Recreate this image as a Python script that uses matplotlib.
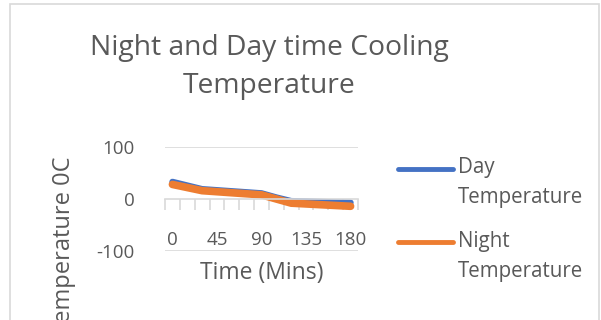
import matplotlib.pyplot as plt
from matplotlib.lines import Line2D
from matplotlib.patches import Rectangle
import numpy as np

plt.rcParams['font.family'] = ['Open Sans', 'DejaVu Sans']

# time categories, 15 min apart
times = [0, 15, 30, 45, 60, 75, 90, 105, 120, 135, 150, 165, 180]
day_temp = [33, 26, 19, 17, 15, 13, 11, 3, -4, -4.5, -5.5, -6.5, -7]
night_temp = [28, 22, 16, 14, 12, 10, 8, 0, -8, -9.5, -11, -12.5, -14]
y_ticks = [-100, 0, 100]

GREY = '#595959'
GRID = '#D9D9D9'

fig = plt.figure(figsize=(6.01, 3.2), dpi=100)
fig.patches.append(Rectangle((10.5 / 601, -0.1), 588 / 601, 1.1 - 3.5 / 320,
                             transform=fig.transFigure, fill=False,
                             edgecolor=GRID, lw=1.2))

ax = fig.add_axes([165 / 601, (320 - 251) / 320, 193 / 601, 104 / 320])
x = np.arange(len(times))
ax.plot(x, day_temp, color='#4472C4', lw=4.5, solid_capstyle='round',
        label='Day\nTemperature')
ax.plot(x, night_temp, color='#ED7D31', lw=5.5, solid_capstyle='round',
        label='Night\nTemperature')

ax.set_xlim(-0.5, len(times) - 0.5)
ax.set_ylim(-100, 100)
for s in ['top', 'right', 'left']:
    ax.spines[s].set_visible(False)
ax.spines['bottom'].set_position(('data', 0))
ax.spines['bottom'].set_color(GRID)
ax.spines['bottom'].set_linewidth(1.2)
ax.set_yticks(y_ticks)
ax.set_yticklabels([str(v) for v in y_ticks])
ax.tick_params(axis='y', length=0, pad=22, labelsize=13.5, labelcolor=GREY)
for v in y_ticks:
    if v != 0:
        ax.axhline(v, color=GRID, lw=1.2, zorder=0)

ax.set_xticks(np.arange(-0.5, len(times)))
ax.set_xticklabels([])
ax.tick_params(axis='x', direction='out', length=8, width=1.2, color=GRID)
for i, t in enumerate(times):
    if i % 3 == 0:
        ax.text(i, -78, str(t), ha='center', va='center', fontsize=13.5,
                color=GREY)

fig.text(262 / 601, 1 - 273 / 320, 'Time (Mins)', ha='center', va='center',
         fontsize=16.5, color=GREY)
fig.text(64 / 601, 1 - 157 / 320, 'Temperature 0C', rotation=90, ha='center',
         va='top', fontsize=17, color=GREY)

fig.text(269 / 601, 1 - 48 / 320, 'Night and Day time Cooling', ha='center',
         va='center', fontsize=20.3, color=GREY)
fig.text(269 / 601, 1 - 86 / 320, 'Temperature', ha='center', va='center',
         fontsize=20.3, color=GREY)

# legend drawn by hand so the handle sits on the first line of the label
for line, y0 in zip(ax.get_lines(), [169, 242]):
    fig.add_artist(Line2D([398 / 601, 453 / 601], [1 - y0 / 320] * 2,
                          transform=fig.transFigure, color=line.get_color(),
                          lw=3.5, solid_capstyle='round'))
    first, second = line.get_label().split('\n')
    fig.text(458 / 601, 1 - (y0 - 1) / 320, first, ha='left', va='center',
             fontsize=14.8, color=GREY)
    fig.text(458 / 601, 1 - (y0 + 29) / 320, second, ha='left', va='center',
             fontsize=14.8, color=GREY)

fig.savefig('out.png', dpi=100)
